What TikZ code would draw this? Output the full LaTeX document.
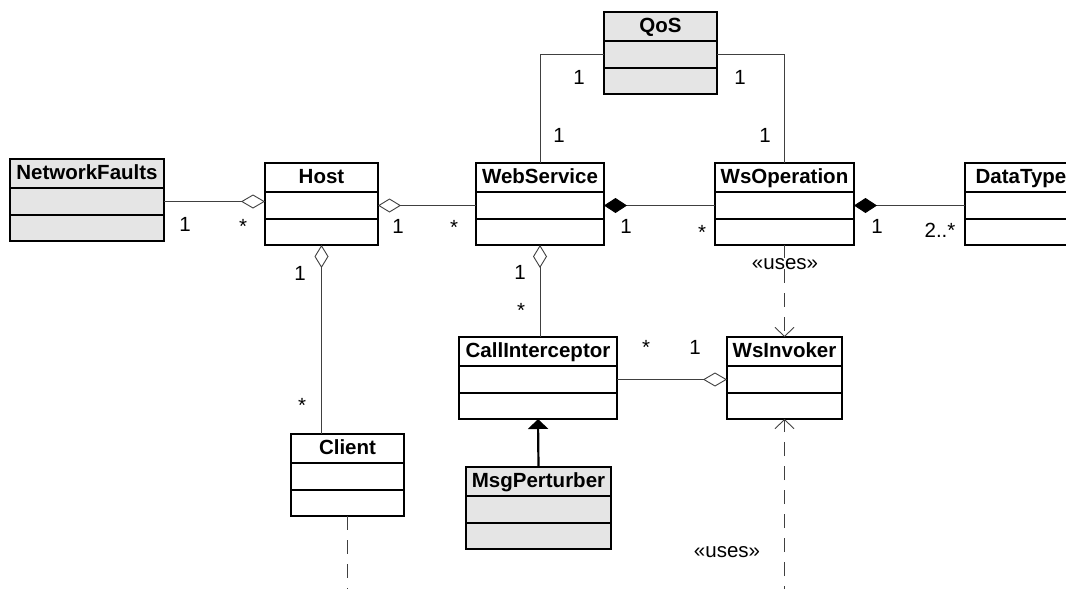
\documentclass[tikz,border=0pt]{standalone}
\usepackage{fontspec}
\setmainfont{Liberation Sans}
\usetikzlibrary{positioning,arrows.meta}

\tikzset{
  clsbox/.style={draw, line width=1.4pt, inner sep=0pt, outer sep=0pt},
  clshead/.style={clsbox, anchor=north, minimum height=29pt, text height=15pt, text depth=4pt, font=\fontsize{20.5}{24}\selectfont\bfseries},
  clsattr/.style={clsbox, minimum height=27pt},
  clsops/.style={clsbox, minimum height=26pt},
  shaded/.style={fill=gray!20},
  heavy/.style={line width=2.4pt},
  assoc/.style={draw=black!75, line width=0.9pt},
  uses/.style={assoc, dash pattern=on 14pt off 10pt},
  inherit/.style={draw=black, line width=2.2pt, -{Triangle[length=10pt,width=20pt]}},
  mult/.style={font=\fontsize{20.5}{24}\selectfont, inner sep=0pt, anchor=base}
}

\begin{document}
\begin{tikzpicture}[x=1pt,y=1pt,yscale=-1,xscale=1]
\clip (0,0) rectangle (1066,589);
% Class: NetworkFaults
\node[clshead, shaded, minimum width=154pt] (nf) at (87,159) {NetworkFaults};
\node[clsattr, shaded, minimum width=154pt, below=0pt of nf] (nf-a) {};
\node[clsops, shaded, minimum width=154pt, below=0pt of nf-a] (nf-o) {};
% Class: Host
\node[clshead, heavy, minimum width=113pt] (host) at (321.5,163) {Host};
\node[clsattr, heavy, minimum width=113pt, below=0pt of host] (host-a) {};
\node[clsops, heavy, minimum width=113pt, below=0pt of host-a] (host-o) {};
% Class: WebService
\node[clshead, minimum width=128pt] (ws) at (540,163) {WebService};
\node[clsattr, minimum width=128pt, below=0pt of ws] (ws-a) {};
\node[clsops, minimum width=128pt, below=0pt of ws-a] (ws-o) {};
% Class: WsOperation
\node[clshead, minimum width=139pt] (op) at (784.5,163) {WsOperation};
\node[clsattr, minimum width=139pt, below=0pt of op] (op-a) {};
\node[clsops, minimum width=139pt, below=0pt of op-a] (op-o) {};
% Class: DataType
\node[clshead, minimum width=112pt] (dt) at (1021,163) {DataType};
\node[clsattr, minimum width=112pt, below=0pt of dt] (dt-a) {};
\node[clsops, minimum width=112pt, below=0pt of dt-a] (dt-o) {};
% Class: QoS
\node[clshead, shaded, minimum width=113pt] (qos) at (660.5,12) {QoS};
\node[clsattr, shaded, minimum width=113pt, below=0pt of qos] (qos-a) {};
\node[clsops, shaded, minimum width=113pt, below=0pt of qos-a] (qos-o) {};
% Class: CallInterceptor
\node[clshead, minimum width=158pt] (ci) at (538,337) {CallInterceptor};
\node[clsattr, minimum width=158pt, below=0pt of ci] (ci-a) {};
\node[clsops, minimum width=158pt, below=0pt of ci-a] (ci-o) {};
% Class: WsInvoker
\node[clshead, minimum width=115pt] (wi) at (784.5,337) {WsInvoker};
\node[clsattr, minimum width=115pt, below=0pt of wi] (wi-a) {};
\node[clsops, minimum width=115pt, below=0pt of wi-a] (wi-o) {};
% Class: Client
\node[clshead, minimum width=113pt] (cl) at (347.5,434) {Client};
\node[clsattr, minimum width=113pt, below=0pt of cl] (cl-a) {};
\node[clsops, minimum width=113pt, below=0pt of cl-a] (cl-o) {};
% Class: MsgPerturber
\node[clshead, shaded, minimum width=145pt] (mp) at (538.5,467) {MsgPerturber};
\node[clsattr, shaded, minimum width=145pt, below=0pt of mp] (mp-a) {};
\node[clsops, shaded, minimum width=145pt, below=0pt of mp-a] (mp-o) {};

% Associations
\draw[assoc, -{Diamond[open, fill=white, length=24pt, width=14pt]}] (nf-a.east) -- (nf-a.east -| host-a.west);
\draw[assoc, {Diamond[open, fill=white, length=23pt, width=14pt]}-] (host-a.east) -- (ws-a.west);
\draw[assoc, {Diamond[color=black, length=23pt, width=15pt]}-] (ws-a.east) -- (op-a.west);
\draw[assoc, {Diamond[color=black, length=23pt, width=15pt]}-] (op-a.east) -- (dt-a.west);
\draw[assoc] (qos-a.west) -| (ws.north);
\draw[assoc] (qos-a.east) -| (op.north);
\draw[assoc, {Diamond[open, fill=white, length=23pt, width=14pt]}-] (host-o.south) -- (host-o.south |- cl.north);
\draw[assoc, {Diamond[open, fill=white, length=23pt, width=14pt]}-] (ws-o.south) -- (ws-o.south |- ci.north);
\draw[assoc, -{Diamond[open, fill=white, length=24pt, width=14pt]}] (ci-a.east) -- (wi-a.west);
% Generalization
\draw[inherit] (mp.north) -- (ci-o.south);
% Dependencies
\coordinate (wi-in) at (784.5,600);
\coordinate (cl-out) at (347.5,600);
\draw[uses, -{Straight Barb[length=9pt, width=19pt]}] (op-o.south) -- (wi.north);
\draw[uses, -{Straight Barb[length=9pt, width=19pt]}] (wi-in) -- (wi-o.south);
\draw[uses] (cl-o.south) -- (cl-out);

% Multiplicities
\node[mult] (m1) at (185,231) {1};
\node[mult] (m2) at (243,233) {*};
\node[mult] (m3) at (398,233) {1};
\node[mult] (m4) at (454,234) {*};
\node[mult] (m5) at (626,233) {1};
\node[mult] (m6) at (702,239) {*};
\node[mult] (m7) at (877,233) {1};
\node[mult] (m8) at (940,237) {2..*};
\node[mult] (m9) at (579,84) {1};
\node[mult] (m10) at (740,84) {1};
\node[mult] (m11) at (559,142) {1};
\node[mult] (m12) at (765,142) {1};
\node[mult] (m13) at (300,280) {1};
\node[mult] (m14) at (302,412) {*};
\node[mult] (m15) at (520,279) {1};
\node[mult] (m16) at (521,317) {*};
\node[mult] (m17) at (646,354) {*};
\node[mult] (m18) at (695,354) {1};
% Stereotypes
\node[mult, fill=white] (s1) at (785,269) {«uses»};
\node[mult] (s2) at (727,557) {«uses»};
\end{tikzpicture}
\end{document}
